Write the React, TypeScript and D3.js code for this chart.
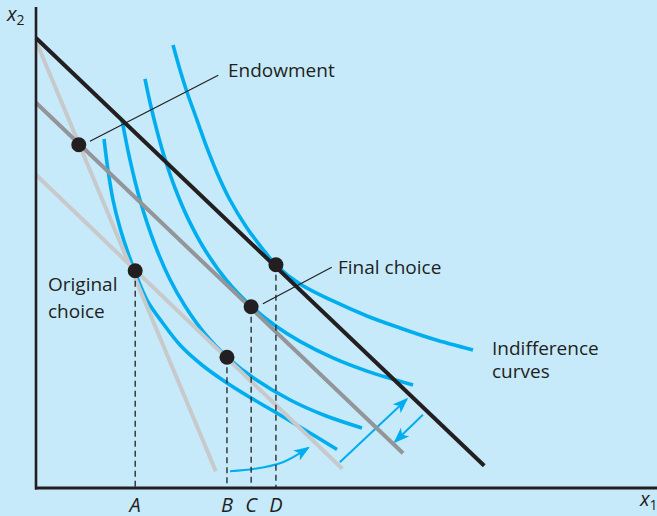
import { useEffect, useRef } from "react";
import * as d3 from "d3";

// budget lines: [x1, x2] end points
const steepBudget = [[0.2, 74], [29.0, 2.8]];
const shallowBudget = [[0, 52.2], [49.4, 3.2]];
const pivotBudget = [[0, 64.2], [59.2, 5.8]];
const finalBudget = [[0, 75], [72.3, 3.7]];

// indifference curves
const curve1 = [[10.97, 58.17], [11.61, 53.0], [12.42, 48.0], [13.55, 43.33], [14.68, 39.67], [15.97, 36.0], [17.9, 31.33], [20.32, 27.67], [23.23, 23.83], [26.77, 20.5], [30.81, 17.5], [34.68, 15.0], [38.71, 12.58], [43.39, 9.67], [48.55, 6.42]];
const curve2 = [[13.87, 61.33], [15.16, 54.67], [16.77, 48.0], [19.19, 40.5], [21.61, 34.75], [24.03, 30.33], [27.26, 25.67], [30.81, 21.83], [35.32, 18.17], [41.0, 14.67], [46.61, 12.08], [52.58, 10.0]];
const curve3 = [[17.58, 68.17], [18.39, 64.25], [19.52, 59.5], [20.81, 54.83], [22.42, 50.0], [24.52, 44.9], [27.26, 39.67], [30.81, 34.5], [34.84, 30.17], [38.55, 27.08], [42.58, 24.43], [47.9, 21.68], [53.39, 19.48], [60.81, 17.17]];
const curve4 = [[22.1, 73.83], [23.23, 69.67], [24.35, 66.0], [25.97, 61.33], [27.58, 56.67], [29.35, 52.17], [31.29, 48.0], [34.03, 43.33], [36.45, 40.0], [38.71, 37.17], [42.58, 34.0], [47.9, 31.17], [53.39, 28.67], [58.71, 26.67], [64.03, 24.83], [70.48, 23.0]];

// points
const endowment = [6.9, 57.2];
const choices = [
  { label: "A", pt: [16.0, 36.2] },
  { label: "B", pt: [30.8, 21.8] },
  { label: "C", pt: [34.7, 30.2] },
  { label: "D", pt: [38.7, 37.2] },
];

// arrows
const curvedArrow = [[31.3, 2.8], [35.3, 3.2], [39.8, 4.3], [43.9, 6.7]];
const upArrow = [[49.0, 4.3], [59.8, 14.8]];
const downArrow = [[62.4, 12.2], [57.9, 7.7]];

const INK = "#231f20";
const BLUE = "#00aeef";
const FONT = "'Open Sans', sans-serif";

function EndowmentChart() {
  const ref = useRef<SVGSVGElement>(null);

  useEffect(() => {
    if (!ref.current) return;
    const svg = d3.select(ref.current);
    svg.selectAll("*").remove();

    const xScale = d3.scaleLinear().domain([0, 100]).range([36, 656]);
    const yScale = d3.scaleLinear().domain([0, 80]).range([488, 8]);

    svg.append("rect").attr("width", 657).attr("height", 516).style("fill", "#c6eafa");

    const defs = svg.append("defs");
    defs
      .append("marker")
      .attr("id", "head")
      .attr("viewBox", "0 0 16 12")
      .attr("markerWidth", 16)
      .attr("markerHeight", 12)
      .attr("markerUnits", "userSpaceOnUse")
      .attr("refX", 14)
      .attr("refY", 6)
      .attr("orient", "auto")
      .append("path")
      .attr("d", "M0,0 L16,6 L0,12 L4,6 Z")
      .style("fill", BLUE);

    const line = d3
      .line<number[]>()
      .x((d) => xScale(d[0]))
      .y((d) => yScale(d[1]));
    const smooth = d3
      .line<number[]>()
      .x((d) => xScale(d[0]))
      .y((d) => yScale(d[1]))
      .curve(d3.curveCatmullRom.alpha(0.5));

    // 无差异曲线
    [curve1, curve2, curve3, curve4].forEach((c) => {
      svg
        .append("path")
        .attr("d", smooth(c))
        .style("fill", "none")
        .style("stroke", BLUE)
        .style("stroke-width", 3.6);
    });

    // 箭头
    svg
      .append("path")
      .attr("d", smooth(curvedArrow))
      .attr("marker-end", "url(#head)")
      .style("fill", "none")
      .style("stroke", BLUE)
      .style("stroke-width", 2);
    [upArrow, downArrow].forEach((a) => {
      svg
        .append("path")
        .attr("d", line(a))
        .attr("marker-end", "url(#head)")
        .style("fill", "none")
        .style("stroke", BLUE)
        .style("stroke-width", 2);
    });

    // 预算线
    const budgets = [
      { d: steepBudget, c: "#c8c9cb" },
      { d: shallowBudget, c: "#c8c9cb" },
      { d: pivotBudget, c: "#939598" },
      { d: finalBudget, c: INK },
    ];
    budgets.forEach((b) => {
      svg
        .append("path")
        .attr("d", line(b.d))
        .style("stroke", b.c)
        .style("stroke-width", 4)
        .style("fill", "none");
    });

    // 虚线
    choices.forEach((p) => {
      svg
        .append("line")
        .attr("x1", xScale(p.pt[0]))
        .attr("x2", xScale(p.pt[0]))
        .attr("y1", yScale(p.pt[1]))
        .attr("y2", yScale(0))
        .style("stroke", INK)
        .style("stroke-width", 1.3)
        .style("stroke-dasharray", "6,4");
      svg
        .append("text")
        .attr("x", xScale(p.pt[0]))
        .attr("y", 512)
        .attr("text-anchor", "middle")
        .style("font-family", FONT)
        .style("font-style", "italic")
        .style("font-size", "20px")
        .style("fill", INK)
        .text(p.label);
    });

    // 引导线
    svg
      .append("line")
      .attr("x1", xScale(8.7))
      .attr("y1", yScale(57.8))
      .attr("x2", xScale(29.4))
      .attr("y2", yScale(68.8))
      .style("stroke", INK)
      .style("stroke-width", 1.2);
    svg
      .append("line")
      .attr("x1", xScale(36.6))
      .attr("y1", yScale(30.7))
      .attr("x2", xScale(47.7))
      .attr("y2", yScale(36.8))
      .style("stroke", INK)
      .style("stroke-width", 1.2);

    // 点
    [endowment, ...choices.map((p) => p.pt)].forEach((p) => {
      svg
        .append("circle")
        .attr("cx", xScale(p[0]))
        .attr("cy", yScale(p[1]))
        .attr("r", 7.5)
        .style("fill", INK);
    });

    // 坐标轴
    svg
      .append("line")
      .attr("x1", xScale(0))
      .attr("x2", xScale(0))
      .attr("y1", yScale(80) - 1)
      .attr("y2", yScale(0) + 1.5)
      .style("stroke", INK)
      .style("stroke-width", 2.6);
    svg
      .append("line")
      .attr("x1", xScale(0) - 1)
      .attr("x2", 657)
      .attr("y1", yScale(0))
      .attr("y2", yScale(0))
      .style("stroke", INK)
      .style("stroke-width", 3);

    const label = (x: number, y: number, t: string) =>
      svg
        .append("text")
        .attr("x", x)
        .attr("y", y)
        .style("font-family", FONT)
        .style("font-size", "19px")
        .style("fill", INK)
        .text(t);

    label(228, 77, "Endowment");
    label(338, 274, "Final choice");
    label(48, 291, "Original");
    label(48, 318, "choice");
    label(492, 355, "Indifference");
    label(492, 378, "curves");

    // 轴标签
    const axisLabel = (x: number, y: number, sub: string) => {
      const t = svg
        .append("text")
        .attr("x", x)
        .attr("y", y)
        .style("font-family", FONT)
        .style("font-style", "italic")
        .style("font-size", "20px")
        .style("fill", INK);
      t.append("tspan").text("x");
      t.append("tspan")
        .attr("dy", 4)
        .style("font-size", "14px")
        .style("font-style", "normal")
        .text(sub);
    };
    axisLabel(7, 21, "2");
    axisLabel(640, 506, "1");
  }, []);

  return (
    <svg
      ref={ref}
      width={657}
      height={516}
      style={{ position: "absolute", left: 0, top: 0 }}
    />
  );
}

export default function App() {
  return <EndowmentChart />;
}
